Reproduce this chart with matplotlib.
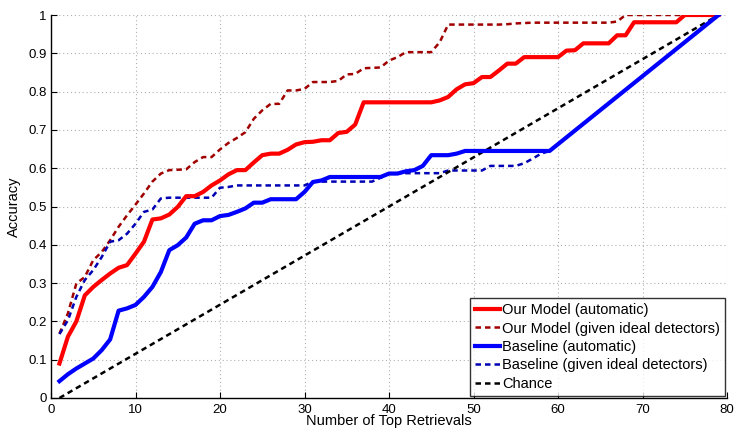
import matplotlib
matplotlib.use("Agg")
import matplotlib.pyplot as plt

plt.rcParams['font.family'] = ['Liberation Sans', 'DejaVu Sans']

# ---- data ----
x_full = list(range(1, 80))

ours_auto = [0.09, 0.16, 0.20, 0.268, 0.29, 0.308, 0.325, 0.34, 0.347, 0.377,
             0.408, 0.466, 0.469, 0.479, 0.499, 0.527, 0.527, 0.538, 0.555, 0.568,
             0.584, 0.595, 0.595, 0.615, 0.634, 0.638, 0.638, 0.648, 0.662, 0.668,
             0.669, 0.673, 0.673, 0.692, 0.695, 0.714, 0.772, 0.772, 0.772, 0.772,
             0.772, 0.772, 0.772, 0.772, 0.772, 0.777, 0.786, 0.806, 0.819, 0.822,
             0.838, 0.838, 0.855, 0.873, 0.873, 0.89, 0.89, 0.89, 0.89, 0.89,
             0.907, 0.908, 0.926, 0.926, 0.926, 0.926, 0.947, 0.947, 0.981, 0.981,
             0.981, 0.981, 0.981, 0.981, 1.0, 1.0, 1.0, 1.0, 1.0]

ours_ideal = [0.168, 0.221, 0.299, 0.316, 0.36, 0.381, 0.412, 0.447, 0.477, 0.505,
              0.534, 0.565, 0.586, 0.595, 0.596, 0.597, 0.616, 0.629, 0.629, 0.649,
              0.666, 0.679, 0.694, 0.729, 0.751, 0.768, 0.768, 0.803, 0.803, 0.807,
              0.825, 0.825, 0.825, 0.828, 0.845, 0.846, 0.861, 0.862, 0.863, 0.881,
              0.89, 0.903, 0.903, 0.903, 0.903, 0.929, 0.975, 0.975, 0.975, 0.975,
              0.975, 0.975, 0.975, 0.976, 0.978, 0.979, 0.98, 0.98, 0.98, 0.98,
              0.98, 0.98, 0.98, 0.98, 0.98, 0.98, 0.983, 1.0, 1.0, 1.0,
              1.0, 1.0, 1.0, 1.0, 1.0, 1.0, 1.0, 1.0, 1.0]

base_x = list(range(1, 60)) + [79]
base_auto = [0.044, 0.062, 0.077, 0.09, 0.103, 0.125, 0.153, 0.228, 0.234, 0.243,
             0.264, 0.29, 0.329, 0.386, 0.399, 0.419, 0.455, 0.464, 0.464, 0.475,
             0.478, 0.486, 0.495, 0.51, 0.51, 0.519, 0.519, 0.519, 0.519, 0.538,
             0.564, 0.568, 0.577, 0.577, 0.577, 0.577, 0.577, 0.577, 0.577, 0.586,
             0.586, 0.592, 0.595, 0.606, 0.634, 0.634, 0.634, 0.638, 0.645, 0.645,
             0.645, 0.645, 0.645, 0.645, 0.645, 0.645, 0.645, 0.645, 0.645, 1.0]

base_ideal = [0.167, 0.203, 0.264, 0.308, 0.334, 0.368, 0.408, 0.412, 0.429, 0.455,
              0.486, 0.492, 0.521, 0.523, 0.523, 0.523, 0.523, 0.523, 0.523, 0.549,
              0.551, 0.555, 0.555, 0.555, 0.555, 0.555, 0.555, 0.555, 0.555, 0.555,
              0.565, 0.565, 0.565, 0.565, 0.565, 0.565, 0.565, 0.565, 0.575, 0.587,
              0.587, 0.587, 0.587, 0.587, 0.587, 0.587, 0.594, 0.594, 0.594, 0.594,
              0.594, 0.606, 0.606, 0.606, 0.606, 0.613, 0.625, 0.638, 0.645, 1.0]

chance_x = [1, 79]
chance_y = [0.0, 1.0]

labels = ["Our Model (automatic)", "Our Model (given ideal detectors)",
          "Baseline (automatic)", "Baseline (given ideal detectors)", "Chance"]

xticks = [0, 10, 20, 30, 40, 50, 60, 70, 80]
yticks = [0, 0.1, 0.2, 0.3, 0.4, 0.5, 0.6, 0.7, 0.8, 0.9, 1.0]
yticklabels = ["0", "0.1", "0.2", "0.3", "0.4", "0.5", "0.6", "0.7", "0.8", "0.9", "1"]

# ---- plot ----
fig = plt.figure(figsize=(7.35, 4.29), dpi=100)
ax = fig.add_axes([51/735, 1 - 398/429, (727 - 51)/735, (398 - 15)/429])

dash = (0, (2.2, 1.6))
ax.plot(x_full, ours_auto, color='#ff0000', lw=3.0, label=labels[0], zorder=5)
ax.plot(x_full, ours_ideal, color='#a00000', lw=1.8, ls=dash, label=labels[1], zorder=4)
ax.plot(base_x, base_auto, color='#0000ff', lw=3.0, label=labels[2], zorder=5)
ax.plot(base_x, base_ideal, color='#0000b4', lw=1.8, ls=dash, label=labels[3], zorder=4)
ax.plot(chance_x, chance_y, color='black', lw=1.8, ls=dash, label=labels[4], zorder=4)

ax.set_xlim(0, 80)
ax.set_ylim(0, 1)
ax.set_xticks(xticks)
ax.set_yticks(yticks)
ax.set_yticklabels(yticklabels)
ax.tick_params(direction='in', labelsize=9.5, length=4, width=0.8)
ax.tick_params(axis='x', pad=4)
ax.tick_params(axis='y', pad=3)
ax.grid(True, color='#b0b0b0', ls=(0, (1, 2.5)), lw=0.8)
for s in ['top', 'right']:
    ax.spines[s].set_visible(False)
for s in ['left', 'bottom']:
    ax.spines[s].set_linewidth(1.0)

ax.set_xlabel("Number of Top Retrievals", fontsize=10.5)
ax.xaxis.set_label_coords(0.5, -0.043)
ax.set_ylabel("Accuracy", fontsize=10.5, labelpad=5)

leg = ax.legend(loc='lower right', fontsize=10.5, frameon=True, fancybox=False,
                handlelength=1.75, handletextpad=0.1, borderpad=0.35, labelspacing=0.3,
                borderaxespad=0.15)
leg.get_frame().set_edgecolor('black')
leg.get_frame().set_linewidth(1.0)

fig.savefig("out.png", dpi=100)
